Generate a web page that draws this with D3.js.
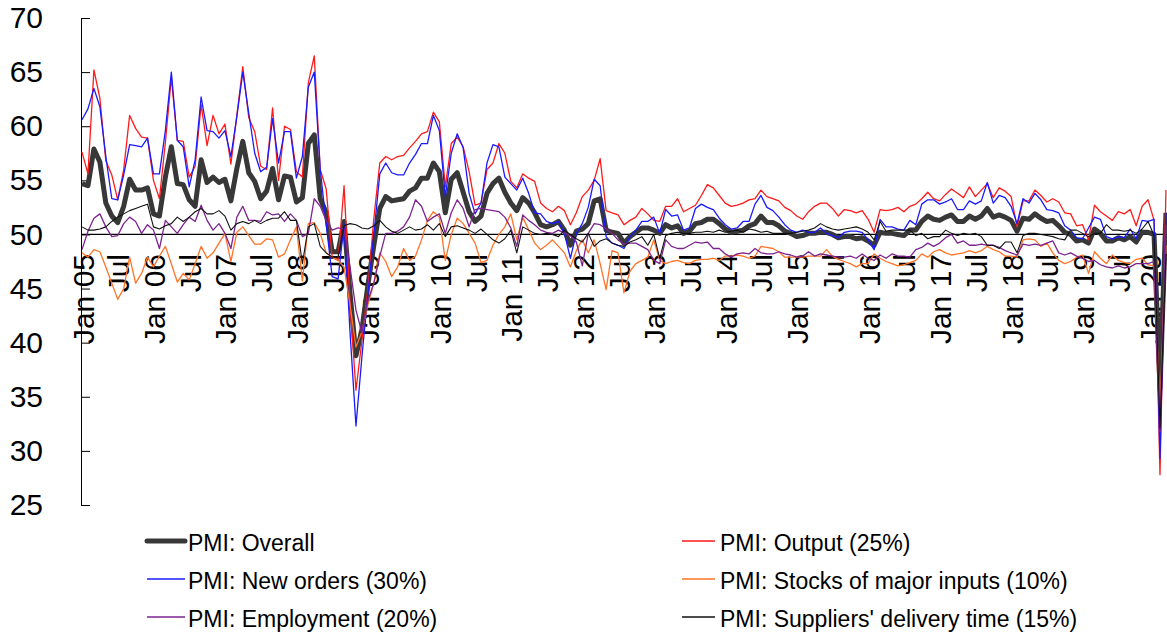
<!DOCTYPE html>
<html>
<head>
<meta charset="utf-8">
<script src="https://cdn.jsdelivr.net/npm/d3@7"></script>
<style>
  body { margin: 0; background: #fff; }
  svg { display: block; font-family: "Liberation Sans", Arial, sans-serif; }
</style>
</head>
<body>
<div id="chart"></div>
<script>
// China manufacturing PMI and sub-indices, monthly Jan 2005 .. Mar 2020
var overall = [
  54.7, 54.5, 57.9, 56.7, 52.9, 51.7, 51.1, 52.6, 55.1, 54.1, 54.1, 54.3,
  51.9, 51.7, 55.3, 58.1, 54.7, 54.6, 53.2, 52.6, 56.9, 54.8, 55.3, 54.8,
  55.1, 53.1, 56.1, 58.6, 55.7, 54.9, 53.3, 54.0, 56.1, 53.2, 55.4, 55.3,
  53.0, 53.4, 58.4, 59.2, 53.3, 52.0, 48.4, 48.4, 51.2, 44.6, 38.8, 41.2,
  45.3, 49.0, 52.4, 53.5, 53.1, 53.2, 53.3, 54.0, 54.3, 55.2, 55.2, 56.6,
  55.8, 52.0, 55.1, 55.7, 53.9, 52.1, 51.2, 51.7, 53.8, 54.7, 55.2, 53.9,
  52.9, 52.2, 53.4, 52.9, 52.0, 50.9, 50.7, 50.9, 51.2, 50.4, 49.0, 50.3,
  50.5, 51.0, 53.1, 53.3, 50.4, 50.2, 50.1, 49.2, 49.8, 50.2, 50.6, 50.6,
  50.4, 50.1, 50.9, 50.6, 50.8, 50.1, 50.3, 51.0, 51.1, 51.4, 51.4, 51.0,
  50.5, 50.2, 50.3, 50.4, 50.8, 51.0, 51.7, 51.1, 51.1, 50.8, 50.3, 50.1,
  49.8, 49.9, 50.1, 50.1, 50.2, 50.2, 50.0, 49.7, 49.8, 49.8, 49.6, 49.7,
  49.4, 49.0, 50.2, 50.1, 50.1, 50.0, 49.9, 50.4, 50.4, 51.2, 51.7, 51.4,
  51.3, 51.6, 51.8, 51.2, 51.2, 51.7, 51.4, 51.7, 52.4, 51.6, 51.8, 51.6,
  51.3, 50.3, 51.5, 51.4, 51.9, 51.5, 51.2, 51.3, 50.8, 50.2, 50.0, 49.4,
  49.5, 49.2, 50.5, 50.1, 49.4, 49.4, 49.7, 49.5, 49.8, 49.3, 50.2, 50.2,
  50.0, 35.7, 52.0
];

var output = [
  57.6, 55.6, 65.2, 62.6, 56.8, 55.5, 53.2, 56.0, 61.0, 59.8, 59.0, 58.9,
  55.0, 53.3, 58.5, 64.5, 58.7, 58.6, 55.3, 56.3, 62.0, 58.2, 61.0, 59.3,
  60.2, 56.5, 61.0, 65.5, 60.8, 59.5, 56.3, 56.0, 61.7, 55.0, 60.0, 59.7,
  55.8, 55.3, 64.0, 66.5, 56.0, 54.2, 47.9, 47.6, 54.5, 43.6, 35.6, 40.2,
  44.9, 51.5, 56.6, 57.2, 56.9, 57.2, 57.3, 58.0, 58.6, 59.3, 59.5, 61.3,
  60.4, 54.4, 58.4, 59.0, 58.1, 55.8, 52.7, 52.9, 56.0, 56.6, 58.4, 57.5,
  54.9, 54.3, 55.6, 55.2, 54.9, 52.9, 52.4, 52.1, 52.6, 52.2, 50.9, 52.0,
  53.5, 54.1, 55.0, 57.0, 52.2, 52.0, 51.8, 50.9, 51.3, 51.6, 52.4, 51.9,
  51.3, 51.2, 52.6, 52.6, 53.3, 52.1, 52.4, 52.7, 53.6, 54.6, 54.3, 53.6,
  52.9, 52.6, 52.7, 52.9, 53.2, 53.3, 54.1, 53.5, 53.3, 53.1, 52.5, 52.2,
  51.7, 51.4, 52.1, 52.6, 52.9, 52.9, 52.4, 51.7, 52.3, 52.2, 52.0, 52.2,
  51.4, 50.2, 52.3, 52.2, 52.3, 52.5, 52.1, 52.6, 52.8, 53.3, 53.9, 53.3,
  53.1, 53.7, 54.2, 53.8, 53.4, 54.4, 53.5, 54.1, 54.7, 53.4, 54.3, 54.0,
  53.5, 50.7, 53.1, 53.1, 54.1, 53.6, 53.0, 53.3, 53.0, 52.0, 51.9, 50.8,
  50.9, 49.5, 52.7, 52.1, 51.7, 51.3, 52.1, 51.9, 52.3, 50.8, 52.6, 53.2,
  51.3, 27.8, 54.1
];

var newOrders = [
  60.6, 61.6, 63.5, 61.8, 57.2, 53.3, 53.2, 55.5, 58.3, 58.2, 58.1, 58.9,
  55.6, 55.6, 59.6, 65.0, 58.7, 58.1, 54.4, 56.9, 62.7, 59.6, 59.5, 58.9,
  59.6, 57.2, 60.9, 65.0, 61.2, 57.5, 55.8, 56.2, 60.7, 56.6, 59.5, 59.5,
  55.2, 57.2, 63.6, 65.0, 56.0, 51.0, 46.1, 45.9, 51.0, 41.0, 32.3, 38.7,
  44.5, 50.0, 55.6, 56.6, 55.7, 55.5, 55.5, 56.6, 57.4, 58.4, 58.4, 61.0,
  59.6, 53.5, 57.5, 59.3, 58.0, 53.8, 51.9, 52.9, 56.6, 58.3, 58.1, 55.3,
  54.7, 54.1, 55.2, 53.8, 52.0, 51.9, 51.2, 51.0, 51.2, 50.1, 47.8, 50.1,
  51.0, 52.5, 55.1, 54.5, 49.8, 49.2, 49.0, 48.7, 49.8, 50.4, 51.2, 51.2,
  51.6, 50.1, 52.3, 51.7, 51.8, 50.4, 50.6, 52.4, 52.8, 52.5, 52.3, 51.5,
  50.9, 50.5, 50.6, 51.2, 51.2, 52.8, 53.6, 52.5, 52.2, 51.6, 50.9, 50.4,
  50.2, 50.4, 50.2, 50.2, 50.6, 50.1, 49.9, 49.7, 50.2, 50.3, 50.3, 50.2,
  49.5, 48.6, 51.4, 50.7, 50.7, 50.5, 50.4, 51.3, 50.9, 52.8, 53.2, 53.2,
  52.8, 53.0, 53.3, 52.3, 52.3, 53.1, 52.8, 53.1, 54.8, 52.9, 53.6, 53.4,
  52.6, 51.0, 53.3, 52.9, 53.8, 53.2, 52.3, 52.2, 52.0, 50.8, 50.4, 49.7,
  49.6, 50.6, 51.6, 51.4, 49.8, 49.6, 49.8, 49.7, 50.5, 49.6, 51.3, 51.2,
  51.4, 29.3, 52.0
];

var stocks = [
  48.3, 47.9, 48.6, 48.4, 47.0, 45.5, 44.0, 45.0, 47.9, 45.5, 46.4, 47.9,
  47.0, 48.0, 48.9, 47.3, 45.6, 46.4, 45.8, 47.3, 48.9, 47.8, 48.3, 49.2,
  50.1, 47.5, 50.2, 50.7, 49.9, 49.1, 49.1, 49.6, 49.5, 47.9, 48.2, 49.5,
  50.7, 45.7, 51.0, 51.1, 50.1, 48.3, 47.9, 47.6, 47.0, 43.5, 39.6, 41.0,
  43.5, 45.5, 48.3, 47.5, 46.1, 47.0, 48.7, 47.6, 48.0, 49.5, 51.3, 52.1,
  51.6, 47.6, 50.0, 51.5, 51.0, 50.1, 49.2, 47.4, 47.6, 49.0, 50.0, 50.7,
  51.9, 49.5, 51.6, 50.4, 49.2, 48.6, 49.0, 49.5, 48.9, 48.3, 47.0, 48.5,
  49.5, 48.3, 49.5, 47.3, 44.9, 48.5, 48.3, 44.6, 46.6, 47.3, 47.6, 47.9,
  49.5, 47.6, 47.3, 47.5, 47.6, 47.4, 47.3, 47.6, 47.7, 47.7, 47.8, 47.6,
  48.0, 48.0, 48.1, 48.0, 47.8, 48.0, 48.9, 48.8, 48.7, 48.4, 47.9, 47.9,
  47.9, 47.9, 48.0, 48.0, 48.0, 48.6, 48.0, 47.7, 47.5, 47.3, 47.0, 47.3,
  47.3, 48.2, 47.8, 47.5, 47.3, 47.1, 47.2, 47.4, 47.6, 48.2, 47.9, 48.4,
  48.6, 48.3, 48.1, 48.2, 48.3, 48.5, 48.3, 48.5, 48.9, 48.6, 48.4, 48.0,
  48.0, 47.9, 49.5, 49.6, 49.5, 48.9, 49.2, 48.3, 47.6, 47.3, 47.5, 47.9,
  48.1, 46.4, 48.4, 47.8, 47.3, 48.1, 47.6, 47.4, 47.3, 47.7, 47.8, 47.2,
  47.1, 33.9, 49.0
];

var employment = [
  48.6, 50.3, 51.5, 51.9, 50.7, 49.8, 49.9, 51.0, 51.6, 51.2, 50.1, 50.9,
  50.4, 48.7, 51.3, 50.7, 50.1, 50.9, 51.6, 51.2, 52.7, 51.3, 50.4, 51.0,
  50.1, 48.7, 51.6, 52.6, 51.3, 51.3, 51.2, 52.1, 51.8, 51.9, 51.2, 51.9,
  51.3, 49.8, 50.1, 53.3, 52.6, 51.3, 50.4, 50.6, 50.5, 47.0, 43.0, 40.9,
  43.9, 45.5, 48.0, 50.1, 50.1, 50.3, 50.7, 51.6, 53.2, 52.6, 51.2, 51.6,
  51.9, 50.1, 52.0, 53.2, 52.4, 50.7, 52.3, 52.4, 52.3, 52.2, 52.1, 51.6,
  50.6, 48.9, 51.8, 51.3, 50.9, 50.4, 50.2, 50.1, 50.4, 50.1, 49.9, 49.3,
  47.1, 50.1, 51.0, 50.9, 50.5, 50.1, 49.5, 49.1, 49.2, 49.2, 48.9, 48.6,
  47.6, 47.3, 49.5, 48.9, 48.7, 48.7, 49.0, 49.3, 49.2, 49.3, 48.7, 48.7,
  48.2, 47.9, 48.2, 48.3, 48.2, 48.7, 48.3, 48.2, 48.2, 48.4, 48.2, 48.1,
  47.9, 48.0, 48.4, 48.0, 48.2, 48.1, 48.0, 47.9, 47.9, 48.0, 47.8, 48.2,
  47.8, 47.6, 48.1, 47.8, 48.2, 48.0, 48.0, 47.9, 48.6, 48.8, 49.2, 48.9,
  49.2, 49.7, 50.0, 49.2, 49.4, 49.0, 49.0, 49.1, 49.0, 49.0, 48.8, 48.5,
  48.3, 48.1, 49.1, 49.0, 49.1, 49.0, 49.2, 49.4, 48.3, 48.1, 48.3, 48.0,
  47.8, 47.5, 47.6, 47.2, 47.0, 46.9, 47.1, 46.9, 47.0, 47.3, 47.3, 47.3,
  47.5, 31.8, 50.9
];

var suppliers = [
  50.7, 50.4, 50.4, 50.5, 50.7, 51.2, 51.6, 51.9, 52.2, 52.4, 52.6, 52.8,
  50.7, 50.5, 50.8, 51.0, 51.6, 51.2, 51.6, 52.1, 52.4, 51.9, 51.9, 52.2,
  51.7, 50.4, 51.0, 51.2, 51.0, 51.3, 51.0, 51.3, 51.5, 51.5, 52.1, 51.3,
  51.3, 47.3, 50.7, 51.0, 48.9, 48.3, 47.9, 47.9, 50.8, 51.0, 50.9, 50.6,
  50.5, 50.8, 51.3, 50.7, 50.3, 50.1, 50.4, 50.7, 50.4, 50.5, 50.9, 50.4,
  51.0, 49.8, 50.7, 50.8, 50.6, 50.4, 50.1, 50.5, 50.0, 49.5, 49.2, 49.6,
  50.4, 48.3, 50.7, 50.4, 50.1, 50.0, 50.1, 50.0, 49.8, 50.4, 50.0, 49.6,
  49.3, 50.1, 48.9, 49.4, 49.6, 49.2, 49.0, 48.9, 49.3, 49.5, 49.8, 49.0,
  50.0, 47.8, 49.9, 50.1, 50.2, 50.1, 50.1, 50.2, 50.2, 50.3, 50.2, 50.4,
  50.2, 50.3, 50.4, 50.2, 50.5, 50.4, 50.2, 50.3, 50.1, 50.1, 50.1, 50.1,
  50.2, 50.3, 50.4, 50.6, 51.0, 50.7, 50.5, 50.4, 50.5, 50.6, 50.7, 50.5,
  50.2, 49.5, 51.2, 50.3, 50.4, 50.4, 50.4, 50.4, 49.9, 50.1, 49.6, 49.8,
  49.8, 50.4, 50.1, 49.9, 50.1, 50.0, 50.1, 49.8, 49.0, 49.0, 48.7, 49.3,
  49.3, 48.3, 49.9, 50.1, 50.1, 50.0, 49.9, 49.8, 49.6, 49.5, 50.4, 50.4,
  50.1, 49.8, 50.1, 50.1, 50.9, 50.4, 50.4, 50.3, 50.4, 50.1, 50.5, 51.2,
  49.9, 32.1, 48.2
];

// one label every six months
var tickLabels = [
  "Jan 05", "Jul", "Jan 06", "Jul", "Jan 07", "Jul", "Jan 08", "Jul",
  "Jan 09", "Jul", "Jan 10", "Jul", "Jan 11", "Jul", "Jan 12", "Jul",
  "Jan 13", "Jul", "Jan 14", "Jul", "Jan 15", "Jul", "Jan 16", "Jul",
  "Jan 17", "Jul", "Jan 18", "Jul", "Jan 19", "Jul", "Jan 20"
];
var yTicks = [25, 30, 35, 40, 45, 50, 55, 60, 65, 70];

// drawing order follows the legend (row by row)
var series = [
  { name: "PMI: Overall", values: overall, color: "#383838", width: 5 },
  { name: "PMI: Output (25%)", values: output, color: "#ff1a1a", width: 1.3 },
  { name: "PMI: New orders (30%)", values: newOrders, color: "#1a1aff", width: 1.3 },
  { name: "PMI: Stocks of major inputs (10%)", values: stocks, color: "#ff7326", width: 1.3 },
  { name: "PMI: Employment (20%)", values: employment, color: "#7d2390", width: 1.3 },
  { name: "PMI: Suppliers' delivery time (15%)", values: suppliers, color: "#111111", width: 1.1 }
];

var width = 1167, height = 634;

var svg = d3.select("#chart").append("svg")
    .attr("width", width)
    .attr("height", height);

// month index -> x, value -> y
var x = d3.scaleLinear().domain([0, 181]).range([82, 1160]);
var y = d3.scaleLinear().domain([25, 70]).range([505, 18]);

// y axis, ticks pointing into the plot
svg.append("g")
    .attr("transform", "translate(81,0)")
    .call(d3.axisLeft(y).tickValues(yTicks).tickSizeInner(-9).tickSizeOuter(0).tickPadding(38))
    .call(function(g) {
        g.attr("font-family", null).attr("font-size", null);
        g.selectAll("path, line").attr("stroke", "#000");
        g.selectAll("text").attr("font-size", 30).attr("fill", "#000");
    });

// the 50 line
svg.append("line")
    .attr("x1", 81).attr("x2", width)
    .attr("y1", y(50)).attr("y2", y(50))
    .attr("stroke", "#000")
    .attr("stroke-width", 1.2);

// rotated date labels hanging below the 50 line (last one kept inside the frame)
svg.append("g").selectAll("text")
    .data(tickLabels)
    .join("text")
    .attr("transform", function(d, i) {
        var px = Math.min(x(i * 6) + 1, width - 17);
        return "translate(" + px + ",254) rotate(-90)";
    })
    .attr("text-anchor", "end")
    .attr("dy", "0.35em")
    .attr("font-size", 30)
    .attr("fill", "#000")
    .text(function(d) { return d; });

var line = d3.line()
    .x(function(d, i) { return x(i); })
    .y(function(d) { return y(d); });

svg.append("g").selectAll("path")
    .data(series)
    .join("path")
    .attr("d", function(d) { return line(d.values); })
    .attr("fill", "none")
    .attr("stroke", function(d) { return d.color; })
    .attr("stroke-width", function(d) { return d.width; })
    .attr("stroke-linejoin", "round");

// legend: two columns, three rows
var legendCols = [{ x1: 147, x2: 185, tx: 188 }, { x1: 682, x2: 715, tx: 720 }];
var legendRows = [541, 579, 617];

var item = svg.append("g").selectAll("g")
    .data(series)
    .join("g")
    .attr("transform", function(d, i) { return "translate(0," + legendRows[Math.floor(i / 2)] + ")"; });

item.append("line")
    .attr("x1", function(d, i) { return legendCols[i % 2].x1; })
    .attr("x2", function(d, i) { return legendCols[i % 2].x2; })
    .attr("stroke", function(d) { return d.color; })
    .attr("stroke-width", function(d) { return d.width > 2 ? 5 : 1.5; })
    .attr("stroke-linecap", function(d) { return d.width > 2 ? "round" : "butt"; });

item.append("text")
    .attr("x", function(d, i) { return legendCols[i % 2].tx; })
    .attr("y", 2)
    .attr("dy", "0.35em")
    .attr("font-size", 23)
    .attr("fill", "#000")
    .text(function(d) { return d.name; });
</script>
</body>
</html>
